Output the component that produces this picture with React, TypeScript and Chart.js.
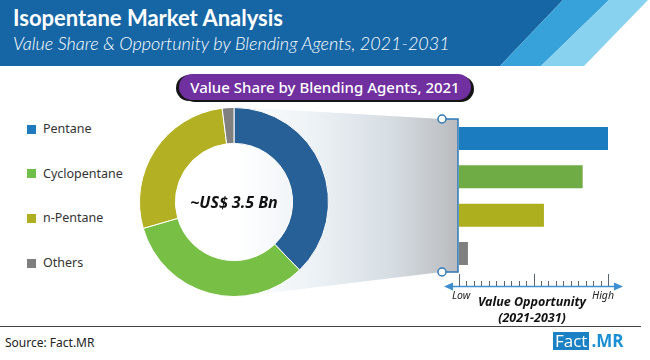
import React, { useEffect, useRef } from "react";
import { Chart, registerables } from "chart.js";

Chart.register(...registerables);

const categories = ["Pentane", "Cyclopentane", "n-Pentane", "Others"];
const valueShare2021 = [37.8, 32.7, 27.5, 2.0];
const valueOpportunity = [10, 8.3, 5.7, 0.6];
const opportunityMin = 0;
const opportunityMax = 10;
const opportunityTickStep = 0.5;
const opportunityMajorStep = 5;

const donutColors = ["#275f97", "#78bf46", "#b3b024", "#808080"];
const barColors = ["#1b7cc0", "#6fac46", "#adaf1f", "#7f7f7f"];
const legendColors = ["#1f79bf", "#71bf4b", "#b0ae21", "#7f7f7f"];

const UI_FONT = "'Noto Sans', 'Open Sans', sans-serif";

const axisPlugin = {
  id: "opportunityAxis",
  afterDraw(chart: any) {
    const ctx = chart.ctx;
    const xs = chart.scales.x;
    const y = 186;
    const x0 = xs.getPixelForValue(opportunityMin);
    const x1 = xs.getPixelForValue(opportunityMax);
    ctx.save();
    ctx.strokeStyle = "#3d8fd1";
    ctx.fillStyle = "#3d8fd1";
    ctx.lineWidth = 1.5;
    ctx.beginPath();
    ctx.moveTo(x0 - 10, y + 0.5);
    ctx.lineTo(x1 + 10, y + 0.5);
    ctx.stroke();
    ctx.beginPath();
    ctx.moveTo(x0 - 15, y + 0.5);
    ctx.lineTo(x0 - 6, y - 3.5);
    ctx.lineTo(x0 - 6, y + 4.5);
    ctx.closePath();
    ctx.fill();
    ctx.beginPath();
    ctx.moveTo(x1 + 15, y + 0.5);
    ctx.lineTo(x1 + 6, y - 3.5);
    ctx.lineTo(x1 + 6, y + 4.5);
    ctx.closePath();
    ctx.fill();
    ctx.strokeStyle = "#5a6470";
    ctx.lineWidth = 1;
    for (let v = opportunityMin; v <= opportunityMax + 1e-9; v += opportunityTickStep) {
      const px = Math.round(xs.getPixelForValue(v)) + 0.5;
      const major = Math.abs(v / opportunityMajorStep - Math.round(v / opportunityMajorStep)) < 1e-6;
      ctx.beginPath();
      ctx.moveTo(px, y - (major ? 12 : 5));
      ctx.lineTo(px, y);
      ctx.stroke();
    }
    ctx.restore();
  },
};

export default function App() {
  const donutRef = useRef<HTMLCanvasElement>(null);
  const barRef = useRef<HTMLCanvasElement>(null);

  useEffect(() => {
    document.body.style.margin = "0";
    const donut = new Chart(donutRef.current as HTMLCanvasElement, {
      type: "doughnut",
      data: {
        labels: categories,
        datasets: [
          {
            data: valueShare2021,
            backgroundColor: donutColors,
            borderColor: "#ffffff",
            borderWidth: 1,
          },
        ],
      },
      options: {
        animation: false,
        responsive: false,
        maintainAspectRatio: false,
        cutout: "62%",
        layout: { padding: 0 },
        plugins: { legend: { display: false }, tooltip: { enabled: false } },
      },
    });
    const bars = new Chart(barRef.current as HTMLCanvasElement, {
      type: "bar",
      data: {
        labels: categories,
        datasets: [
          {
            data: valueOpportunity,
            backgroundColor: barColors,
            borderWidth: 0,
            barPercentage: 0.6,
            categoryPercentage: 1,
          },
        ],
      },
      options: {
        indexAxis: "y",
        animation: false,
        responsive: false,
        maintainAspectRatio: false,
        layout: { padding: { left: 19, right: 32, top: 19.3, bottom: 27.3 } },
        scales: {
          x: { display: false, min: opportunityMin, max: opportunityMax },
          y: { display: false },
        },
        plugins: { legend: { display: false }, tooltip: { enabled: false } },
      },
      plugins: [axisPlugin],
    });
    return () => {
      donut.destroy();
      bars.destroy();
    };
  }, []);

  const abs = (l: number, t: number, extra: any = {}) => ({
    position: "absolute" as const,
    left: l,
    top: t,
    ...extra,
  });

  return (
    <div
      style={{
        position: "relative",
        width: 650,
        height: 360,
        background: "#ffffff",
        overflow: "hidden",
        fontFamily: UI_FONT,
      }}
    >
      <svg width={650} height={70} style={abs(0, 0)}>
        <polygon points="0,0 563,0 500,66 0,66" fill="#1666a6" />
        <polygon points="563,0 609,0 541,66 500,66" fill="#37a2da" />
        <polygon points="609,0 648,0 584,66 541,66" fill="#88d2ef" />
      </svg>
      <div
        style={abs(13, 4, {
          color: "#ffffff",
          fontFamily: "Lato, sans-serif",
          fontWeight: 700,
          fontSize: 22,
          whiteSpace: "nowrap",
        })}
      >
        Isopentane Market Analysis
      </div>
      <div
        style={abs(13, 32, {
          color: "#ffffff",
          fontFamily: "Lato, sans-serif",
          fontStyle: "italic",
          fontWeight: 300,
          fontSize: 18,
          whiteSpace: "nowrap",
        })}
      >
        Value Share &amp; Opportunity by Blending Agents, 2021-2031
      </div>

      <div
        style={abs(179, 74, {
          width: 292,
          height: 26,
          borderRadius: 13,
          background: "#7030a0",
          boxShadow: "-3px 1px 0 #151515, 3px 2px 0 #151515",
          color: "#ffffff",
          fontSize: 15,
          fontWeight: 500,
          lineHeight: "26px",
          textAlign: "center",
          whiteSpace: "nowrap",
        })}
      >
        Value Share by Blending Agents, 2021
      </div>

      {categories.map((c, i) => (
        <div key={c} style={abs(27, 120 + i * 44.7, { display: "flex", alignItems: "center", whiteSpace: "nowrap" })}>
          <span style={{ display: "inline-block", width: 9, height: 9, background: legendColors[i], marginRight: 7 }} />
          <span style={{ fontSize: 12.5, color: "#333", lineHeight: "18px" }}>{c}</span>
        </div>
      ))}

      <svg width={650} height={360} style={abs(0, 0)}>
        <defs>
          <linearGradient id="fg" x1="235" y1="0" x2="458" y2="0" gradientUnits="userSpaceOnUse">
            <stop offset="0" stopColor="#ffffff" />
            <stop offset="0.35" stopColor="#edf2f6" />
            <stop offset="0.7" stopColor="#d6dde3" />
            <stop offset="1" stopColor="#b9bbbe" />
          </linearGradient>
        </defs>
        <polygon points="235,107 442,119 458,119 458,272 442,272 235,297" fill="url(#fg)" />
        <polyline points="442,119 458,119 458,272 442,272" fill="none" stroke="#2e78b8" strokeWidth={1.5} />
        <circle cx={442} cy={119} r={4} fill="#ffffff" stroke="#2e78b8" strokeWidth={1.5} />
        <circle cx={442} cy={272} r={4} fill="#ffffff" stroke="#2e78b8" strokeWidth={1.5} />
      </svg>

      <canvas ref={donutRef} width={190} height={190} style={abs(139, 107, { width: 190, height: 190 })} />
      <div
        style={abs(154, 190, {
          width: 160,
          textAlign: "center",
          fontFamily: "'Open Sans', sans-serif",
          fontWeight: 700,
          fontStyle: "italic",
          fontSize: 16,
          color: "#111",
          lineHeight: "24px",
        })}
      >
        ~US$ 3.5 Bn
      </div>

      <canvas ref={barRef} width={200} height={200} style={abs(440, 100, { width: 200, height: 200 })} />

      <div style={abs(452, 288, { fontSize: 10.5, fontStyle: "italic", color: "#222" })}>Low</div>
      <div style={abs(592, 288, { fontSize: 10.5, fontStyle: "italic", color: "#222" })}>High</div>
      <div
        style={abs(462, 294, {
          width: 140,
          textAlign: "center",
          fontSize: 12.5,
          fontWeight: 700,
          fontStyle: "italic",
          color: "#111",
          lineHeight: "16px",
        })}
      >
        Value Opportunity
        <br />
        (2021-2031)
      </div>

      <div style={abs(0, 326, { width: 641, height: 1, background: "#444" })} />
      <div style={abs(5, 334, { fontSize: 12, color: "#222", whiteSpace: "nowrap" })}>Source: Fact.MR</div>
      <div style={abs(553, 332, { display: "flex", alignItems: "center", height: 18 })}>
        <span
          style={{
            background: "#1b80c4",
            color: "#fff",
            fontSize: 17,
            lineHeight: "18px",
            padding: "0 2px",
            fontFamily: "'Open Sans', sans-serif",
          }}
        >
          Fact
        </span>
        <span
          style={{
            color: "#1b8fd6",
            fontSize: 17,
            fontWeight: 700,
            lineHeight: "18px",
            marginLeft: 2,
            fontFamily: "'Open Sans', sans-serif",
          }}
        >
          .MR
        </span>
      </div>
    </div>
  );
}
